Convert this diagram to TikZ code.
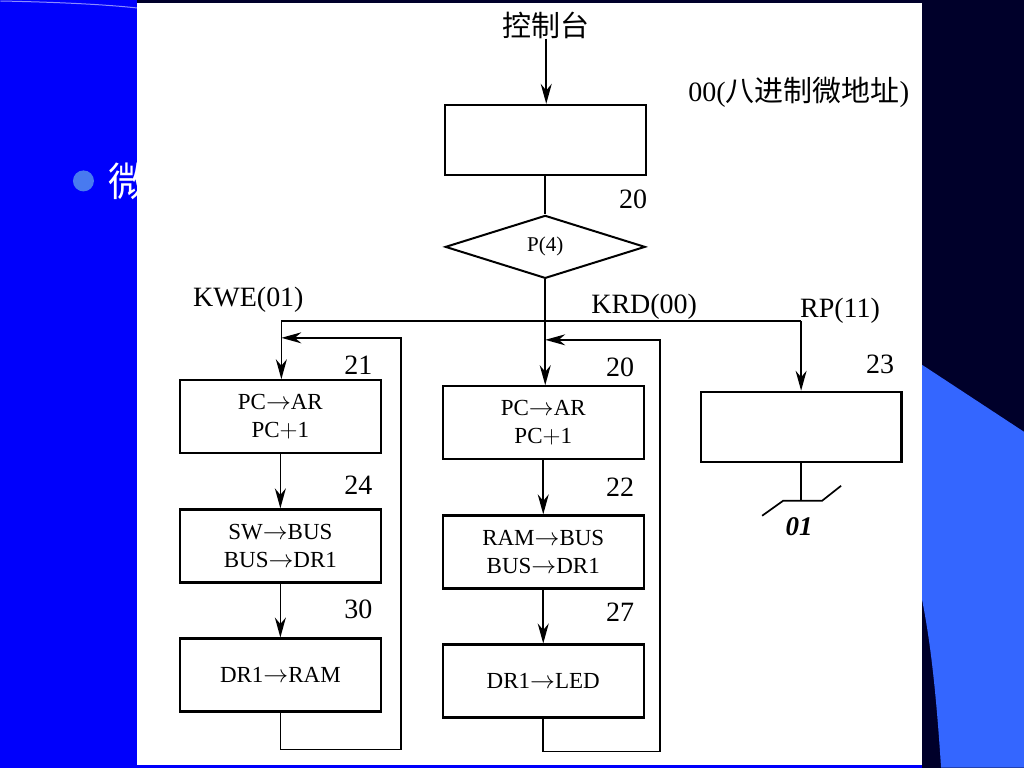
\documentclass[tikz,border=0pt]{standalone}
\usepackage{fontspec}
\setmainfont{Liberation Serif}
\newfontfamily\cjk{Noto Sans CJK SC}
\usetikzlibrary{shapes.geometric, arrows.meta, positioning, calc}

\definecolor{slideblue}{RGB}{0,0,252}
\definecolor{slidenavy}{RGB}{0,0,42}
\definecolor{slidesky}{RGB}{52,102,255}
\definecolor{dotblue}{RGB}{72,122,240}

\begin{document}
\begin{tikzpicture}[x=1pt, y=-1pt,
  node distance=54pt and 60pt,
  box/.style={rectangle, draw, line width=2.2pt, minimum width=201pt, minimum height=73pt, inner sep=0pt, align=center, font=\fontsize{23}{28}\selectfont},
  tag/.style={inner sep=0pt, font=\fontsize{28}{30}\selectfont},
  arrow/.style={-{Stealth[length=20pt,width=11pt]}, line width=1.7pt},
  wire/.style={line width=1.7pt}
]
  % slide behind the scan
  \fill[slideblue] (0,0) rectangle (1024,768);
  \fill[slidenavy] (922,0) rectangle (1024,768);
  \fill[slidesky] (922,365) -- (1024,432) -- (1024,768) -- (941,768) .. controls (936,690) and (930,640) .. (922,600) -- cycle;
  \draw[white!55!slideblue, line width=1pt] (0,1) .. controls (50,2) and (100,4) .. (137,8);
  \fill[dotblue] (83,181) circle (10.5pt);
  \node[anchor=west, inner sep=0pt, text=white, font=\cjk\fontsize{40}{40}\selectfont] (bullet) at (108,181) {微};
  \fill[slidenavy] (137,0) rectangle (922,3);
  \fill[white] (137,3) rectangle (922,765);

  % top of the chart
  \node[tag, font=\cjk\fontsize{29}{30}\selectfont] (console) at (546,25) {控制台};
  \node[box, minimum height=70pt] (init) at (545,140) {};
  \node[tag, anchor=west] (octal) at (688,92) {00(\cjk\fontsize{29}{30}\selectfont 八进制微地址\rmfamily)};
  \node[tag] (a20top) at (633,199) {20};
  \node[diamond, draw, line width=2pt, aspect=3.2, minimum width=200pt, minimum height=63pt, inner sep=0pt, font=\fontsize{21}{24}\selectfont] (test) at (545,247) {P(4)};
  \coordinate (split) at (545,321);
  \coordinate (kwe) at (281,321);
  \coordinate (rp) at (801,321);

  % KWE branch
  \node[box] (pcL) at (280,417) {PC$\rightarrow$AR\\PC$+$1};
  \node[box, below=of pcL] (swbus) {SW$\rightarrow$BUS\\BUS$\rightarrow$DR1};
  \node[box, below=of swbus] (dram) {DR1$\rightarrow$RAM};

  % KRD branch
  \node[box] (pcM) at (543,423) {PC$\rightarrow$AR\\PC$+$1};
  \node[box, below=of pcM] (rambus) {RAM$\rightarrow$BUS\\BUS$\rightarrow$DR1};
  \node[box, below=of rambus] (dled) {DR1$\rightarrow$LED};

  % RP branch
  \node[box, minimum height=70pt] (rpbox) at (801,427) {};
  \coordinate (rpend) at (801,501);

  % branch and address labels
  \node[tag] (lkwe) at (248,300) {KWE(01)};
  \node[tag] (lkrd) at (644,307) {KRD(00)};
  \node[tag] (lrp) at (840,311) {RP(11)};
  \node[tag] (a21) at (358,365) {21};
  \node[tag] (a24) at (358,485) {24};
  \node[tag] (a30) at (358,610) {30};
  \node[tag] (a20) at (620,368) {20};
  \node[tag] (a22) at (620,487) {22};
  \node[tag] (a27) at (620,613) {27};
  \node[tag] (a23) at (880,365) {23};
  \node[inner sep=0pt, font=\bfseries\itshape\fontsize{27}{28}\selectfont] (a01) at (799,527) {01};

  % connectors
  \draw[arrow] (console) -- (console |- init.north);
  \draw[wire] (init) -- (test);
  \draw[wire] (test.south) -- (split);
  \draw[wire] (kwe) -- (rp);
  \draw[arrow] (split) -- (split |- pcM.north);
  \draw[arrow] (kwe) -- (kwe |- pcL.north);
  \draw[arrow] (rp) -- (rp |- rpbox.north);
  \draw[arrow] (pcL) -- (swbus);
  \draw[arrow] (swbus) -- (dram);
  \draw[arrow] (pcM) -- (rambus);
  \draw[arrow] (rambus) -- (dled);
  \coordinate (lback) at (281,338);
  \coordinate (mback) at (545,340);
  \draw[arrow] (dram.south) |- (401,750) |- (lback);
  \draw[arrow] (dled.south) |- (660,752) |- (mback);
  \draw[wire] (rpbox.south) -- (rpend);
  \draw[wire] (762,516) -- (783,501) -- (822,501) -- (841,486);
\end{tikzpicture}
\end{document}
